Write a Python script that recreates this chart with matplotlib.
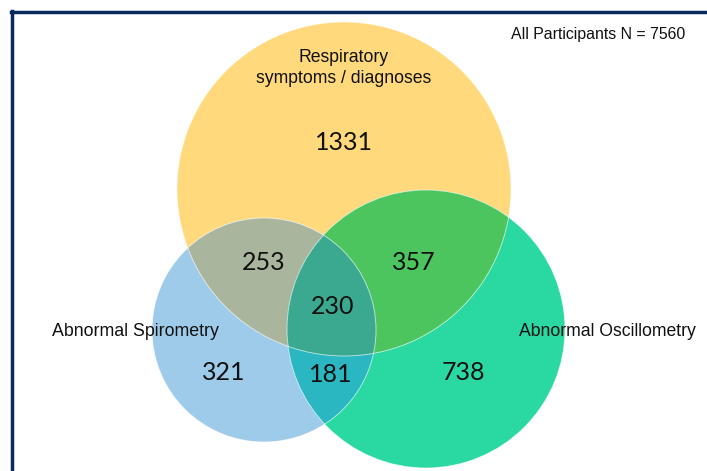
import matplotlib
matplotlib.use('Agg')
import matplotlib.pyplot as plt
import numpy as np
from matplotlib.patches import Circle, Polygon
from matplotlib.lines import Line2D

# region counts
region_names = ['R', 'S', 'O', 'RS', 'RO', 'SO', 'RSO']
region_counts = [1331, 321, 738, 253, 357, 181, 230]
set_labels = ['Respiratory\nsymptoms / diagnoses', 'Abnormal Spirometry', 'Abnormal Oscillometry']
total_n = 7560

# circle layout (pixel coords, y down)
centers = [(344, 189), (264, 330), (426, 329)]
radii = [167, 112, 139]
base_colors = ['#FFD97C', '#9ECBEA', '#2AD8A2']
overlap_colors = {'RS': '#A9B69D', 'RO': '#4CC55F', 'SO': '#2BB7C2', 'RSO': '#3AA98F'}

label_pos = {'R': (344, 142), 'S': (224, 373), 'O': (463, 372), 'RS': (264, 262),
             'RO': (414, 262), 'SO': (331, 374), 'RSO': (333, 306)}

fig = plt.figure(figsize=(7.07, 4.71), dpi=100)
ax = fig.add_axes([0, 0, 1, 1])
ax.set_xlim(0, 707)
ax.set_ylim(471, 0)
ax.axis('off')

circles = []
for c, r, col in zip(centers, radii, base_colors):
    p = Circle(c, r, facecolor=col, edgecolor='none', zorder=1)
    ax.add_patch(p)
    circles.append(p)

# pairwise overlaps: circle i clipped by circle j
for i, j, key in [(0, 1, 'RS'), (0, 2, 'RO'), (1, 2, 'SO')]:
    p = Circle(centers[i], radii[i], facecolor=overlap_colors[key], edgecolor='none', zorder=2)
    ax.add_patch(p)
    p.set_clip_path(circles[j])

# triple overlap as a convex polygon of boundary points inside all circles
def inside(pts, k):
    return (pts[:, 0] - centers[k][0]) ** 2 + (pts[:, 1] - centers[k][1]) ** 2 <= radii[k] ** 2 + 1e-6

t = np.linspace(0, 2 * np.pi, 2000)
pts = []
for k in range(3):
    b = np.column_stack([centers[k][0] + radii[k] * np.cos(t), centers[k][1] + radii[k] * np.sin(t)])
    keep = np.ones(len(b), dtype=bool)
    for m in range(3):
        if m != k:
            keep &= inside(b, m)
    pts.append(b[keep])
pts = np.vstack(pts)
cen = pts.mean(axis=0)
order = np.argsort(np.arctan2(pts[:, 1] - cen[1], pts[:, 0] - cen[0]))
ax.add_patch(Polygon(pts[order], closed=True, facecolor=overlap_colors['RSO'], edgecolor='none', zorder=3))

# thin white outlines
for c, r in zip(centers, radii):
    ax.add_patch(Circle(c, r, facecolor='none', edgecolor='white', lw=0.6, alpha=0.7, zorder=4))

for name, cnt in zip(region_names, region_counts):
    x, y = label_pos[name]
    ax.text(x, y, str(cnt), ha='center', va='center', fontsize=18,
            family='Lato', color='#111111', zorder=5)

ax.text(344, 68, set_labels[0], ha='center', va='center', fontsize=12.7,
        family='Liberation Sans', color='#111111', linespacing=1.3, zorder=5)
ax.text(52, 331, set_labels[1], ha='left', va='center', fontsize=12.8,
        family='Liberation Sans', color='#111111', zorder=5)
ax.text(519, 331, set_labels[2], ha='left', va='center', fontsize=12.7,
        family='Liberation Sans', color='#111111', zorder=5)
ax.text(598, 34, f'All Participants N = {total_n}', ha='center', va='center', fontsize=11.4,
        family='Liberation Sans', color='#111111', zorder=5)

# frame
ax.add_line(Line2D([12, 12], [11, 471], color='#0B2A5C', lw=2.5, zorder=6))
ax.add_line(Line2D([11, 707], [12, 12], color='#0B2A5C', lw=2.5, zorder=6))

fig.savefig('out.png', dpi=100)
